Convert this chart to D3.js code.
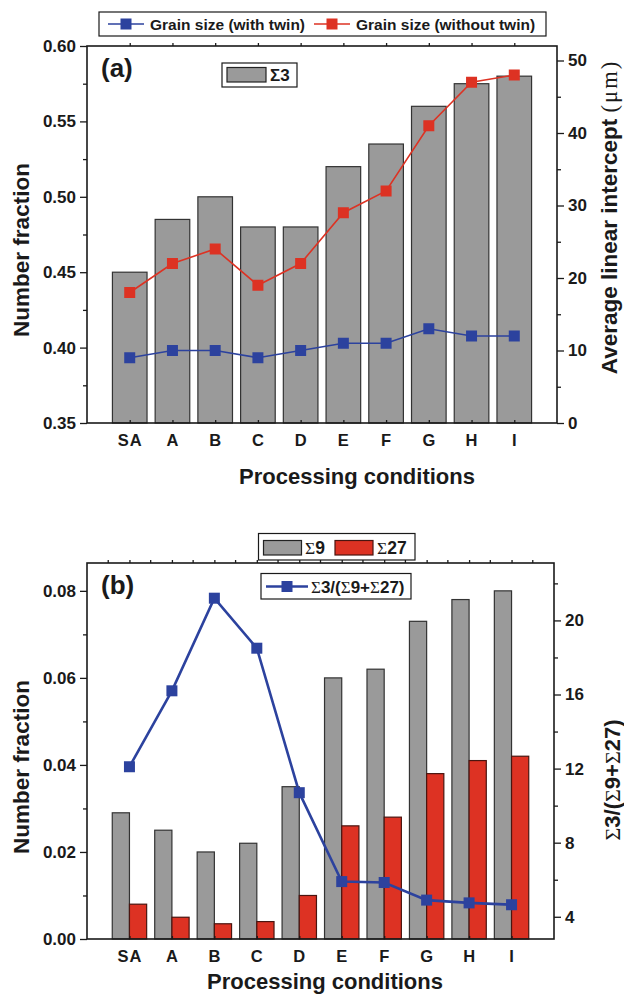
<!DOCTYPE html>
<html lang="en">
<head>
<meta charset="UTF-8">
<title>Grain boundary fractions</title>
<script src="https://d3js.org/d3.v7.min.js"></script>
<style>
  body { margin: 0; background: #fff; }
  svg text { font-family: "Liberation Sans", Arial, Helvetica, sans-serif; font-weight: bold; fill: #1a1a1a; }
  .sig { font-family: "Liberation Serif", "Times New Roman", serif; font-weight: normal; }
</style>
</head>
<body>
<script>
// ---- data ----
const categories = ["SA", "A", "B", "C", "D", "E", "F", "G", "H", "I"];

// panel (a)
const sigma3 = [0.45, 0.485, 0.50, 0.48, 0.48, 0.52, 0.535, 0.56, 0.575, 0.58];
const grainWithTwin = [9, 10, 10, 9, 10, 11, 11, 13, 12, 12];
const grainWithoutTwin = [18, 22, 24, 19, 22, 29, 32, 41, 47, 48];

// panel (b)
const sigma9 = [0.029, 0.025, 0.020, 0.022, 0.035, 0.060, 0.062, 0.073, 0.078, 0.080];
const sigma27 = [0.008, 0.005, 0.0035, 0.004, 0.010, 0.026, 0.028, 0.038, 0.041, 0.042];
const ratio = [12.1, 16.2, 21.2, 18.5, 10.7, 5.9, 5.85, 4.9, 4.75, 4.65];

// ticks
const leftTicksA = [0.35, 0.40, 0.45, 0.50, 0.55, 0.60];
const leftMinorA = [0.375, 0.425, 0.475, 0.525, 0.575];
const rightTicksA = [0, 10, 20, 30, 40, 50];
const rightMinorA = [5, 15, 25, 35, 45];
const leftTicksB = [0, 0.02, 0.04, 0.06, 0.08];
const leftMinorB = [0.01, 0.03, 0.05, 0.07];
const rightTicksB = [4, 8, 12, 16, 20];
const rightMinorB = [6, 10, 14, 18, 22];

const GRAY = "#9a9a9a", RED = "#dd3223", BLUE = "#2c429e", INK = "#1a1a1a";

const svg = d3.select("body").append("svg")
    .attr("width", 624)
    .attr("height", 996);

// write text, drawing every Σ in a serif face
function richText(sel, str, serifSigma) {
    const parts = str.split(/(Σ)/).filter(s => s.length);
    parts.forEach(p => {
        const t = sel.append("tspan").text(p);
        if (p === "Σ" && serifSigma) t.attr("class", "sig");
    });
    return sel;
}

function axes(g, box, x, yL, yR, o) {
    const ax = (gen, tx, ty) => {
        const a = g.append("g").attr("transform", `translate(${tx},${ty})`).call(gen);
        a.select(".domain").remove();
        a.selectAll("line").attr("stroke", INK).attr("stroke-width", 1.3);
        return a;
    };
    // major + minor on left
    ax(d3.axisLeft(yL).tickValues(o.leftTicks).tickSize(7).tickPadding(4).tickFormat(d3.format(".2f")), box.l, 0)
        .selectAll("text").style("font-size", "17px");
    ax(d3.axisLeft(yL).tickValues(o.leftMinor).tickSize(4).tickFormat(""), box.l, 0);
    // right
    ax(d3.axisRight(yR).tickValues(o.rightTicks).tickSize(7).tickPadding(4).tickFormat(d3.format("d")), box.r, 0)
        .selectAll("text").style("font-size", "17px");
    ax(d3.axisRight(yR).tickValues(o.rightMinor).tickSize(4).tickFormat(""), box.r, 0);
    // bottom categories
    ax(d3.axisBottom(x).tickSize(-3).tickPadding(11), 0, box.b)
        .selectAll("text").style("font-size", "16.5px").attr("letter-spacing", "1px");
    // top ticks
    ax(d3.axisTop(x).tickSize(3).tickFormat(""), 0, box.t);
    if (o.halfTop) {
        const halfs = x.domain().map(c => x(c) - x.step() / 2).concat([x(x.domain()[x.domain().length - 1]) + x.step() / 2]);
        g.selectAll(".half").data(halfs).join("line")
            .attr("x1", d => d).attr("x2", d => d)
            .attr("y1", box.t).attr("y2", box.t - 3)
            .attr("stroke", INK).attr("stroke-width", 1.3);
    }
    // frame
    g.append("rect")
        .attr("x", box.l).attr("y", box.t)
        .attr("width", box.r - box.l).attr("height", box.b - box.t)
        .attr("fill", "none").attr("stroke", INK).attr("stroke-width", 1.6);
}

function squares(g, data, x, y, color, size) {
    g.selectAll(null).data(data).join("rect")
        .attr("x", (d, i) => x(categories[i]) - size / 2)
        .attr("y", d => y(d) - size / 2)
        .attr("width", size).attr("height", size)
        .attr("fill", color);
}

// ================= panel (a) =================
const boxA = { l: 87, r: 557, t: 46, b: 423 };
const xA = d3.scalePoint().domain(categories).range([boxA.l, boxA.r]).padding(1);
const yA = d3.scaleLinear().domain([0.35, 0.60]).range([boxA.b, boxA.t]);
const y2A = d3.scaleLinear().domain([0, 52]).range([boxA.b, boxA.t]);
const gA = svg.append("g");
const bwA = xA.step() * 0.81;

gA.selectAll(".barA").data(sigma3).join("rect")
    .attr("x", (d, i) => xA(categories[i]) - bwA / 2)
    .attr("y", d => yA(d))
    .attr("width", bwA)
    .attr("height", d => yA(0.35) - yA(d))
    .attr("fill", GRAY).attr("stroke", "#333").attr("stroke-width", 1.2);

const lineA = d3.line().x((d, i) => xA(categories[i])).y(d => y2A(d));
gA.append("path").datum(grainWithoutTwin).attr("d", lineA)
    .attr("fill", "none").attr("stroke", RED).attr("stroke-width", 1.6);
gA.append("path").datum(grainWithTwin).attr("d", lineA)
    .attr("fill", "none").attr("stroke", BLUE).attr("stroke-width", 1.6);
squares(gA, grainWithoutTwin, xA, y2A, RED, 11);
squares(gA, grainWithTwin, xA, y2A, BLUE, 11);

axes(gA, boxA, xA, yA, y2A, {
    leftTicks: leftTicksA, leftMinor: leftMinorA,
    rightTicks: rightTicksA, rightMinor: rightMinorA, halfTop: false
});

gA.append("text").attr("x", 101).attr("y", 77).style("font-size", "26px").text("(a)");

// Σ3 legend
const lgS3 = gA.append("g");
lgS3.append("rect").attr("x", 222).attr("y", 63).attr("width", 75).attr("height", 24)
    .attr("fill", "#fff").attr("stroke", INK).attr("stroke-width", 1.2);
lgS3.append("rect").attr("x", 227).attr("y", 67.5).attr("width", 39).attr("height", 14.5)
    .attr("fill", GRAY).attr("stroke", "#222").attr("stroke-width", 1.2);
lgS3.append("text").attr("x", 270).attr("y", 81).style("font-size", "17px").text("Σ3");

// top legend
const lgTop = svg.append("g");
lgTop.append("rect").attr("x", 99).attr("y", 12).attr("width", 447).attr("height", 24)
    .attr("fill", "#fff").attr("stroke", INK).attr("stroke-width", 1.2);
[[108, BLUE, "Grain size (with twin)"], [314, RED, "Grain size (without twin)"]].forEach(([x0, c, label]) => {
    lgTop.append("line").attr("x1", x0).attr("x2", x0 + 36).attr("y1", 24).attr("y2", 24)
        .attr("stroke", c).attr("stroke-width", 1.6);
    lgTop.append("rect").attr("x", x0 + 12.5).attr("y", 18.5).attr("width", 11).attr("height", 11).attr("fill", c);
    lgTop.append("text").attr("x", x0 + 42).attr("y", 30).style("font-size", "15.5px").text(label);
});

// titles (a)
svg.append("text").attr("transform", "translate(29,250) rotate(-90)")
    .attr("text-anchor", "middle").style("font-size", "22.5px").text("Number fraction");
const rtA = svg.append("text").attr("transform", "translate(617,217) rotate(-90)")
    .attr("text-anchor", "middle").style("font-size", "22.5px");
rtA.append("tspan").text("Average linear intercept ");
rtA.append("tspan").attr("class", "sig").attr("letter-spacing", "2px").text("(μm)");
svg.append("text").attr("x", 357).attr("y", 484).attr("text-anchor", "middle")
    .style("font-size", "22px").text("Processing conditions");

// ================= panel (b) =================
const boxB = { l: 87, r: 554, t: 563, b: 939 };
const xB = d3.scalePoint().domain(categories).range([boxB.l, boxB.r]).padding(1);
const yB = d3.scaleLinear().domain([0, 0.0864]).range([boxB.b, boxB.t]);
const y2B = d3.scaleLinear().domain([2.8, 23.1]).range([boxB.b, boxB.t]);
const gB = svg.append("g");
const bwB = xB.step() * 0.405;

gB.selectAll(".s9").data(sigma9).join("rect")
    .attr("x", (d, i) => xB(categories[i]) - bwB)
    .attr("y", d => yB(d))
    .attr("width", bwB).attr("height", d => yB(0) - yB(d))
    .attr("fill", GRAY).attr("stroke", "#333").attr("stroke-width", 1.2);
gB.selectAll(".s27").data(sigma27).join("rect")
    .attr("x", (d, i) => xB(categories[i]))
    .attr("y", d => yB(d))
    .attr("width", bwB).attr("height", d => yB(0) - yB(d))
    .attr("fill", RED).attr("stroke", "#4a1510").attr("stroke-width", 1.2);

const lineB = d3.line().x((d, i) => xB(categories[i])).y(d => y2B(d));
gB.append("path").datum(ratio).attr("d", lineB)
    .attr("fill", "none").attr("stroke", BLUE).attr("stroke-width", 2.6);
squares(gB, ratio, xB, y2B, BLUE, 11);

axes(gB, boxB, xB, yB, y2B, {
    leftTicks: leftTicksB, leftMinor: leftMinorB,
    rightTicks: rightTicksB, rightMinor: rightMinorB, halfTop: true
});

gB.append("text").attr("x", 101).attr("y", 594).style("font-size", "26px").text("(b)");

// Σ9 / Σ27 legend
const lgB1 = svg.append("g");
lgB1.append("rect").attr("x", 258.5).attr("y", 533.5).attr("width", 156.5).attr("height", 26.5)
    .attr("fill", "#fff").attr("stroke", INK).attr("stroke-width", 1.2);
lgB1.append("rect").attr("x", 263.5).attr("y", 540.5).attr("width", 38).attr("height", 14.5)
    .attr("fill", GRAY).attr("stroke", "#222").attr("stroke-width", 1.2);
richText(lgB1.append("text").attr("x", 305).attr("y", 554).style("font-size", "17.5px"), "Σ9", true);
lgB1.append("rect").attr("x", 335).attr("y", 540.5).attr("width", 38).attr("height", 14.5)
    .attr("fill", RED).attr("stroke", "#4a1510").attr("stroke-width", 1.2);
richText(lgB1.append("text").attr("x", 377).attr("y", 554).style("font-size", "17.5px"), "Σ27", true);

// ratio legend
const lgB2 = svg.append("g");
lgB2.append("rect").attr("x", 261).attr("y", 573.5).attr("width", 150).attr("height", 25.5)
    .attr("fill", "#fff").attr("stroke", INK).attr("stroke-width", 1.2);
lgB2.append("line").attr("x1", 266).attr("x2", 308).attr("y1", 586.5).attr("y2", 586.5)
    .attr("stroke", BLUE).attr("stroke-width", 2.6);
lgB2.append("rect").attr("x", 281.5).attr("y", 581).attr("width", 11).attr("height", 11).attr("fill", BLUE);
richText(lgB2.append("text").attr("x", 311).attr("y", 593).style("font-size", "17px"), "Σ3/(Σ9+Σ27)", true);

// titles (b)
svg.append("text").attr("transform", "translate(29,767) rotate(-90)")
    .attr("text-anchor", "middle").style("font-size", "22.5px").text("Number fraction");
richText(svg.append("text").attr("transform", "translate(620,780) rotate(-90)")
    .attr("text-anchor", "middle").style("font-size", "22px"), "Σ3/(Σ9+Σ27)", true);
svg.append("text").attr("x", 325).attr("y", 989).attr("text-anchor", "middle")
    .style("font-size", "22px").text("Processing conditions");
</script>
</body>
</html>
